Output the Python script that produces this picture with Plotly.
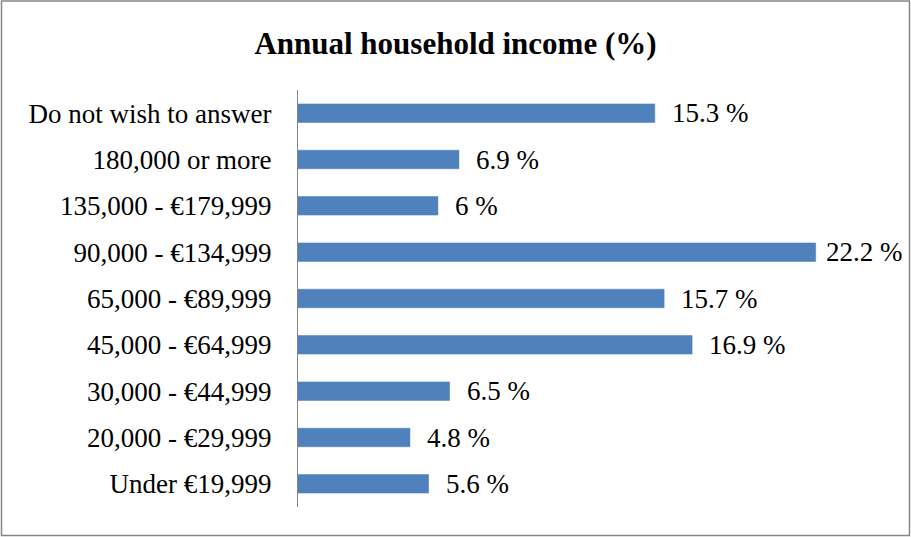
import plotly.graph_objects as go

categories = [
    "Do not wish to answer",
    "180,000 or more",
    "135,000 - €179,999",
    "90,000 - €134,999",
    "65,000 - €89,999",
    "45,000 - €64,999",
    "30,000 - €44,999",
    "20,000 - €29,999",
    "Under €19,999",
]
values = [15.3, 6.9, 6.0, 22.2, 15.7, 16.9, 6.5, 4.8, 5.6]
value_labels = ["15.3 %", "6.9 %", "6 %", "22.2 %", "15.7 %", "16.9 %", "6.5 %", "4.8 %", "5.6 %"]

W, H = 911, 537
L, R, T, B = 298, 30, 90, 30
SERIF = "'Liberation Serif', 'DejaVu Serif', serif"

fig = go.Figure(
    go.Bar(
        x=values,
        y=categories,
        orientation="h",
        width=0.4,
        marker=dict(color="#4F81BD", line=dict(color="#4A7EBB", width=0.5)),
        hoverinfo="skip",
    )
)

# value labels; the longest bar's label is pulled in so it stays inside the frame
vmax = max(values)
for cat, v, lab in zip(categories, values, value_labels):
    fig.add_annotation(
        x=v, y=cat, text=lab, showarrow=False,
        xanchor="left", yanchor="middle", xshift=8 if v == vmax else 15,
        font=dict(family=SERIF, size=27, color="#000000"),
    )

# chart border drawn in paper coordinates extended into the margins
pw, ph = W - L - R, H - T - B
def px_x(p):
    return (p - L) / pw
def px_y(p):
    return (H - B - p) / ph

fig.add_shape(
    type="rect", xref="paper", yref="paper",
    x0=px_x(1.5), x1=px_x(909.5), y0=px_y(535.5), y1=px_y(1.0),
    line=dict(color="#868686", width=1.5), fillcolor="rgba(0,0,0,0)", layer="below",
)

fig.update_layout(
    width=W, height=H,
    margin=dict(l=L, r=R, t=T, b=B),
    paper_bgcolor="white", plot_bgcolor="white",
    showlegend=False,
    title=dict(
        text="<b>Annual household income (%)</b>",
        x=0.5, xref="container", xanchor="center",
        y=1 - 43 / H, yanchor="middle",
        font=dict(family=SERIF, size=31, color="#000000"),
    ),
    xaxis=dict(range=[0, 25], visible=False, fixedrange=True),
    yaxis=dict(
        autorange="reversed",
        showline=True, linecolor="#868686", linewidth=1,
        ticks="", showgrid=False, zeroline=False,
        ticklabelstandoff=20,
        tickfont=dict(family=SERIF, size=27, color="#000000"),
    ),
)

fig.write_html("out.html")
